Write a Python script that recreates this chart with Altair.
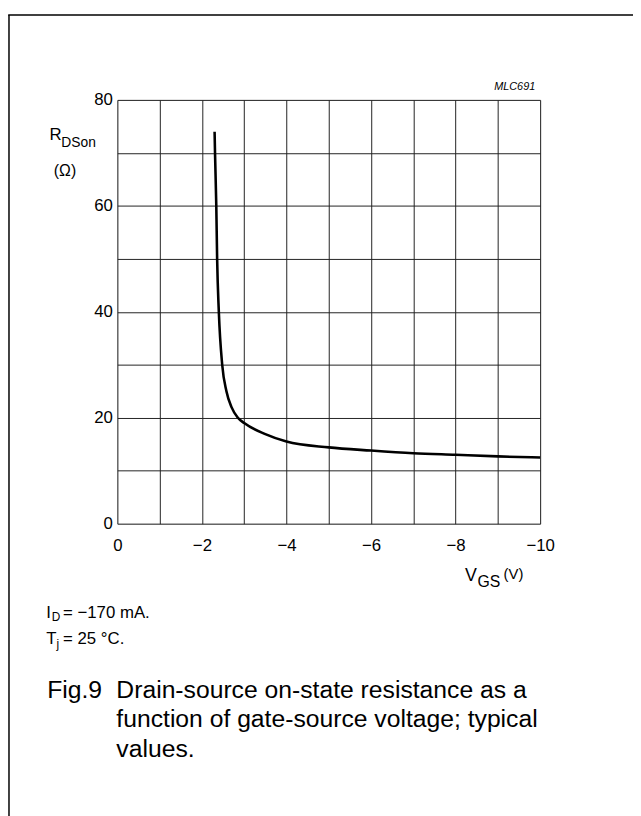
import altair as alt
import pandas as pd

# Curve (V_GS in volts, R_DSon in ohms)
vgs = [-2.30, -2.31, -2.34, -2.36, -2.40, -2.48, -2.58, -2.70, -2.85,
       -3.0, -3.5, -4.0, -5.0, -6.0, -7.0, -8.0, -9.0, -10.0]
rds = [74.0, 70.0, 60.0, 50.0, 40.0, 30.0, 25.0, 22.0, 20.0,
       19.0, 16.9, 15.5, 14.4, 13.8, 13.3, 13.0, 12.7, 12.5]

x_ticks = [0, -1, -2, -3, -4, -5, -6, -7, -8, -9, -10]
y_ticks = [0, 10, 20, 30, 40, 50, 60, 70, 80]

df = pd.DataFrame({"vgs": vgs, "rds": rds})

FONT = "Liberation Sans"
W, H = 428, 429
one = alt.Data(values=[{}])


def txt(s, x, y, size, align="left", baseline="middle", style="normal", font=FONT):
    return alt.Chart(one).mark_text(
        text=s, fontSize=size, font=font, align=align, baseline=baseline,
        fontStyle=style, color="black"
    ).encode(x=alt.value(x), y=alt.value(y))


curve = alt.Chart(df).mark_line(color="black", strokeWidth=2.6, interpolate="monotone").encode(
    x=alt.X("vgs:Q",
            scale=alt.Scale(domain=[0, -10], nice=False, zero=False),
            axis=alt.Axis(values=x_ticks, title=None, grid=True, gridColor="#222",
                          gridWidth=1, ticks=False, domain=False,
                          labelFont=FONT, labelFontSize=17, labelColor="black",
                          labelPadding=14, labelFlush=False,
                          labelExpr="datum.value % 2 != 0 ? '' : (datum.value == 0 ? '0' : '\u2212' + abs(datum.value))")),
    y=alt.Y("rds:Q",
            scale=alt.Scale(domain=[0, 80], nice=False),
            axis=alt.Axis(values=y_ticks, title=None, grid=True, gridColor="#222",
                          gridWidth=1, ticks=False, domain=False,
                          labelFont=FONT, labelFontSize=17, labelColor="black",
                          labelPadding=5,
                          labelExpr="datum.value % 20 != 0 ? '' : datum.label")),
)

border_left = alt.Chart(one).mark_rule(color="black", strokeWidth=1.5).encode(
    x=alt.value(-109.7), y=alt.value(-86), y2=alt.value(725))
border_top = alt.Chart(one).mark_rule(color="black", strokeWidth=1.5).encode(
    x=alt.value(-110.5), x2=alt.value(525), y=alt.value(-86))

texts = [
    txt("MLC691", 423, -13, 11, align="right", style="italic"),
    txt("R", -68.7, 36, 17),
    txt("DSon", -56.7, 44, 14),
    txt("(\u03a9)", -41.7, 72, 16, align="right"),
    txt("V", 352, 482, 18),
    txt("GS", 364.5, 488, 16),
    txt("(V)", 391, 480, 15),
    txt("I", -72, 519, 17),
    txt("D", -66.5, 524, 12),
    txt("= \u2212170 mA.", -55, 519, 17),
    txt("T", -72, 546, 17),
    txt("j", -61.5, 551, 12),
    txt("= 25 \u00b0C.", -55, 546, 17),
    txt("Fig.9", -71, 597, 25),
    txt("Drain-source on-state resistance as a", -1, 597, 25),
    txt("function of gate-source voltage; typical", -1, 627, 25),
    txt("values.", -1, 657, 25),
]

chart = alt.layer(curve, border_left, border_top, *texts).properties(
    width=W, height=H,
    autosize=alt.AutoSizeParams(type="none"),
    padding={"left": 110.7, "top": 88, "right": 94, "bottom": 300},
).configure_view(stroke="black", strokeWidth=1.5).configure(background="white")

chart.save("out.html", embed_options={"renderer": "svg", "actions": False})
